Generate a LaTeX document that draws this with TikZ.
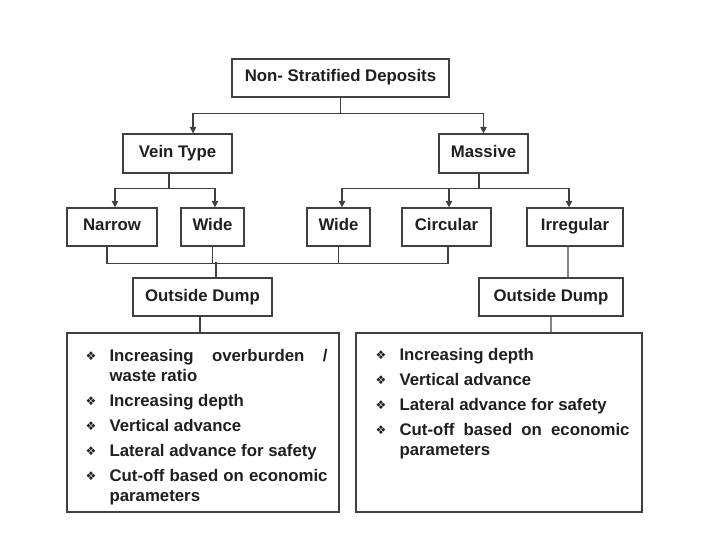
\documentclass[tikz,border=0pt]{standalone}
\usepackage{fontspec}
\setmainfont{Liberation Sans}
\newfontfamily\symfont{DejaVu Sans}
\usetikzlibrary{arrows.meta}

\tikzset{
  box/.style={draw=black!75, line width=1.3bp, inner sep=0pt, minimum height=38bp,
    text height=12bp, text depth=4bp, text=black!88,
    font=\fontsize{16.8bp}{20bp}\selectfont\bfseries},
  listbox/.style={draw=black!75, line width=1.3bp, inner sep=0pt, minimum height=179bp},
  listtext/.style={anchor=north west, inner sep=0pt, align=justify, text=black!88,
    font=\fontsize{16.8bp}{20bp}\selectfont\bfseries},
  link/.style={draw=black!75, line width=1.3bp},
  arr/.style={link, -{Triangle[length=6.5bp,width=6.5bp]}},
}
\newcommand{\dumpbullet}{\raisebox{1.5bp}{\fontsize{12bp}{12bp}\selectfont\symfont\char"2756}}
\newcommand{\dumpitem}[1]{\noindent\hangindent=24bp\hangafter=1\makebox[24bp][l]{\dumpbullet}#1\par}
\newcommand{\listsetup}{\parskip=5bp\tolerance=10000\hyphenpenalty=10000\exhyphenpenalty=10000}

\begin{document}
\begin{tikzpicture}[x=1bp, y=-1bp]
\useasboundingbox (0,0) rectangle (706,552);

\node[box, minimum width=217bp] (top) at (340.5,78) {Non- Stratified Deposits};
\node[box, minimum width=109bp, minimum height=39bp] (vein) at (177.5,153.5) {Vein Type};
\node[box, minimum width=89bp, minimum height=39bp] (massive) at (483.5,153.5) {Massive};

\node[box, minimum width=90bp] (narrow) at (112,227) {Narrow};
\node[box, minimum width=63bp] (wideL) at (212.5,227) {Wide};
\node[box, minimum width=63bp] (wideR) at (338.5,227) {Wide};
\node[box, minimum width=89bp] (circular) at (446.5,227) {Circular};
\node[box, minimum width=96bp] (irregular) at (575,227) {Irregular};

\node[box, minimum width=139bp] (dumpL) at (202.5,297) {Outside Dump};
\node[box, minimum width=144bp] (dumpR) at (551,297) {Outside Dump};

\node[listbox, minimum width=272bp] (listL) at (203,422.5) {};
\node[listbox, minimum width=286bp] (listR) at (499,422.5) {};

\node[listtext, text width=242bp] (textL) at ([xshift=19bp,yshift=-17bp]listL.north west) {\listsetup
  \dumpitem{Increasing overburden / waste ratio}
  \dumpitem{Increasing depth}
  \dumpitem{Vertical advance}
  \dumpitem{Lateral advance for safety}
  \dumpitem{Cut-off based on economic parameters}};
\node[listtext, text width=254bp] (textR) at ([xshift=20bp,yshift=-16bp]listR.north west) {\listsetup
  \dumpitem{Increasing depth}
  \dumpitem{Vertical advance}
  \dumpitem{Lateral advance for safety}
  \dumpitem{Cut-off based on economic parameters}};

\draw[link] (top.south) -- ++(0,16) coordinate (split1);
\draw[arr] (split1) -| ([xshift=15.5bp]vein.north);
\draw[arr] (split1) -| (massive.north);

\draw[link] ([xshift=-8.5bp]vein.south) -- ++(0,15) coordinate (split2);
\draw[arr] (split2) -| ([xshift=3bp]narrow.north);
\draw[arr] (split2) -| ([xshift=2.5bp]wideL.north);

\draw[link] ([xshift=-4.5bp]massive.south) -- ++(0,15) coordinate (split3);
\draw[arr] (split3) -| ([xshift=3.5bp]wideR.north);
\draw[arr] (split3) -| ([xshift=2.5bp]circular.north);
\draw[arr] (split3) -| ([xshift=-6bp]irregular.north);

\coordinate (merge) at ([xshift=13.5bp,yshift=15bp]dumpL.north);
\draw[link] ([xshift=-5bp]narrow.south) -- ++(0,17) -| ([xshift=1.5bp]circular.south);
\draw[link] (wideL.south) -- ++(0,17);
\draw[link] (wideR.south) -- ++(0,17);
\draw[link] (merge) -- ([xshift=13.5bp]dumpL.north);
\draw[link] ([xshift=-7bp]irregular.south) -- ([xshift=17bp]dumpR.north);

\draw[link] ([xshift=-2.5bp]dumpL.south) -- ([xshift=-3bp]listL.north);
\draw[link] (dumpR.south) -- ([xshift=52bp]listR.north);
\end{tikzpicture}
\end{document}
